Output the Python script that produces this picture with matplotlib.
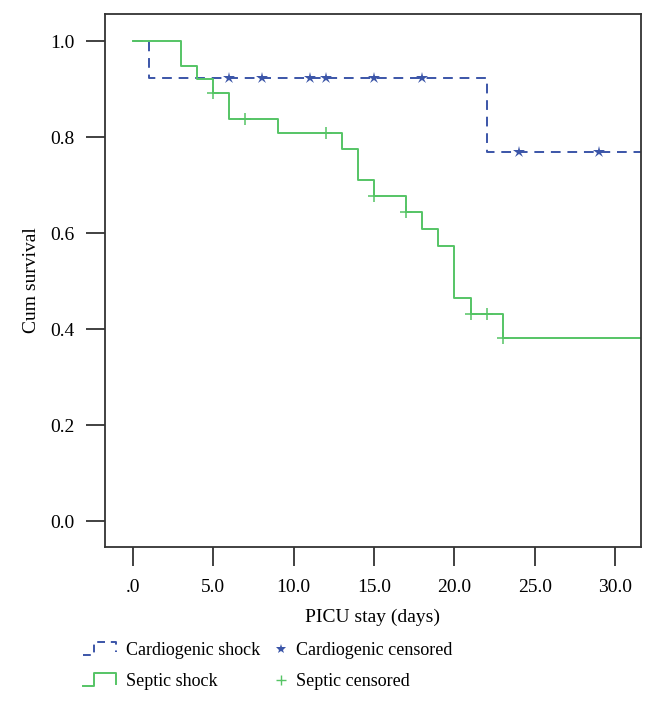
import matplotlib
matplotlib.use("Agg")
import matplotlib.pyplot as plt
from matplotlib.lines import Line2D
from matplotlib.legend_handler import HandlerBase

plt.rcParams['font.family'] = ['Liberation Serif', 'DejaVu Serif']

# Kaplan-Meier step data
cardio_times = [0, 1, 22, 32]
cardio_surv = [1.0, 0.923, 0.769, 0.769]
cardio_cens_t = [6, 8, 11, 12, 15, 18, 24, 29]
cardio_cens_s = [0.923, 0.923, 0.923, 0.923, 0.923, 0.923, 0.769, 0.769]

septic_times = [0, 3, 4, 5, 6, 9, 13, 14, 15, 17, 18, 19, 20, 21, 23, 32]
septic_surv = [1.0, 0.948, 0.920, 0.892, 0.837, 0.808, 0.776, 0.711, 0.678,
               0.644, 0.608, 0.574, 0.465, 0.431, 0.381, 0.381]
septic_cens_t = [5, 7, 12, 15, 17, 21, 22, 23]
septic_cens_s = [0.892, 0.837, 0.808, 0.678, 0.644, 0.431, 0.431, 0.381]

x_ticks = [0, 5, 10, 15, 20, 25, 30]
x_ticklabels = ['.0', '5.0', '10.0', '15.0', '20.0', '25.0', '30.0']
y_ticks = [0.0, 0.2, 0.4, 0.6, 0.8, 1.0]
y_ticklabels = ['0.0', '0.2', '0.4', '0.6', '0.8', '1.0']

BLUE = '#3B55A8'
GREEN = '#55C465'

fig = plt.figure(figsize=(6.56, 7.07), dpi=100)
ax = fig.add_axes([0.160, 0.2263, 0.817, 0.7537])

ax.step(cardio_times, cardio_surv, where='post', color=BLUE, lw=1.4,
        linestyle=(0, (5, 3.5)))
ax.plot(cardio_cens_t, cardio_cens_s, linestyle='none', marker='*',
        color=BLUE, markersize=9, markeredgewidth=0)
ax.step(septic_times, septic_surv, where='post', color=GREEN, lw=1.4)
ax.plot(septic_cens_t, septic_cens_s, linestyle='none', marker='+',
        color=GREEN, markersize=8, markeredgewidth=1.1)

ax.set_xlim(-1.74, 31.6)
ax.set_ylim(-0.054, 1.056)
ax.set_xticks(x_ticks)
ax.set_xticklabels(x_ticklabels)
ax.set_yticks(y_ticks)
ax.set_yticklabels(y_ticklabels)
ax.tick_params(direction='out', length=14, width=1.3, color='#333333',
               labelsize=14, pad=8)
ax.tick_params(axis='x', pad=9)
for s in ax.spines.values():
    s.set_color('#333333')
    s.set_linewidth(1.3)

ax.set_xlabel('PICU stay (days)', fontsize=14, labelpad=9)
ax.set_ylabel('Cum survival', fontsize=14, labelpad=7)


class StepHandler(HandlerBase):
    def __init__(self, color, ls):
        super().__init__()
        self.color = color
        self.ls = ls

    def create_artists(self, legend, orig_handle, xdescent, ydescent, width,
                       height, fontsize, trans):
        x0, x1 = -xdescent, -xdescent + width
        y0, y1 = -ydescent, -ydescent + height * 1.05
        xm = x0 + width * 0.35
        xs = [x0, xm, xm, x1, x1]
        ys = [y0, y0, y1, y1, y0 + height * 0.2]
        ln = Line2D(xs, ys, color=self.color, lw=1.4, linestyle=self.ls,
                    transform=trans)
        return [ln]


h1 = Line2D([], [], color=BLUE)
h2 = Line2D([], [], color=GREEN)
h3 = Line2D([], [], linestyle='none', marker='*', color=BLUE, markersize=7,
            markeredgewidth=0)
h4 = Line2D([], [], linestyle='none', marker='+', color=GREEN, markersize=7)

fig.legend([h1, h2], ['Cardiogenic shock', 'Septic shock'],
           handler_map={h1: StepHandler(BLUE, (0, (4, 3))),
                        h2: StepHandler(GREEN, '-')},
           frameon=False, fontsize=13, loc='upper left',
           bbox_to_anchor=(83 / 656, 1 - 642 / 707),
           handlelength=1.8, handletextpad=0.6, labelspacing=0.78,
           borderpad=0, borderaxespad=0)
fig.legend([h3, h4], ['Cardiogenic censored', 'Septic censored'],
           frameon=False, fontsize=13, loc='upper left',
           bbox_to_anchor=(275 / 656, 1 - 642 / 707),
           handlelength=0.7, handletextpad=0.45, labelspacing=0.78,
           borderpad=0, borderaxespad=0)

fig.savefig('out.png', dpi=100)
